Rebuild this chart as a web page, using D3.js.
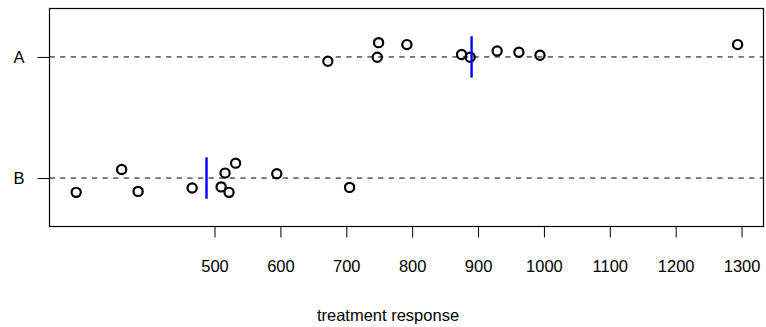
<!DOCTYPE html>
<html>
<head>
<meta charset="utf-8">
<script src="https://cdn.jsdelivr.net/npm/d3@7"></script>
<style>
  html, body { margin: 0; padding: 0; background: #fff; }
  svg { display: block; }
  text { font-family: "Liberation Sans", Arial, sans-serif; fill: #000; }
</style>
</head>
<body>
<svg id="chart" width="766" height="327"></svg>
<script>
// ---- data ----
const groups = ["A", "B"];
const valuesA = [672, 747, 749, 792, 875, 888, 929, 962, 994, 1294];
const jitterA = [0.035, 0.002, -0.118, -0.102, -0.020, 0.002, -0.049, -0.039, -0.014, -0.102];
const valuesB = [290, 359, 384, 466, 510, 516, 532, 522, 594.5, 705];
const jitterB = [0.118, -0.071, 0.110, 0.082, 0.073, -0.041, -0.123, 0.118, -0.035, 0.077];
const xTicks = [500, 600, 700, 800, 900, 1000, 1100, 1200, 1300];
const xLabel = "treatment response";

// ---- layout ----
const mLeft = 49.5, mRight = 763.5, mTop = 8.5, mBottom = 226.5;
const fontSize = 16.5;
const svg = d3.select("#chart");

const x = d3.scaleLinear().domain([249.5, 1333.3]).range([mLeft, mRight]);
const y = d3.scaleLinear().domain([0.6, 2.4]).range([mTop, mBottom]);

const series = [
  { g: "A", idx: 1, vals: valuesA, jit: jitterA },
  { g: "B", idx: 2, vals: valuesB, jit: jitterB }
];

// dashed reference lines
svg.append("g").selectAll("line").data(series).join("line")
  .attr("x1", mLeft).attr("x2", mRight)
  .attr("y1", d => y(d.idx)).attr("y2", d => y(d.idx))
  .attr("stroke", "#000").attr("stroke-width", 1)
  .attr("stroke-dasharray", "5.3,5.3");

// points
series.forEach(s => {
  svg.append("g").selectAll("circle").data(s.vals.map((v, i) => ({ v, j: s.jit[i] })))
    .join("circle")
    .attr("cx", d => x(d.v)).attr("cy", d => y(s.idx + d.j))
    .attr("r", 4.6)
    .attr("fill", "none").attr("stroke", "#000").attr("stroke-width", 2.2);
});

// mean lines
series.forEach(s => {
  const m = d3.mean(s.vals);
  svg.append("line")
    .attr("x1", x(m)).attr("x2", x(m))
    .attr("y1", y(s.idx - 0.171)).attr("y2", y(s.idx + 0.171))
    .attr("stroke", "#0000ff").attr("stroke-width", 2.4);
});

// box
svg.append("rect")
  .attr("x", mLeft).attr("y", mTop)
  .attr("width", mRight - mLeft).attr("height", mBottom - mTop)
  .attr("fill", "none").attr("stroke", "#000").attr("stroke-width", 1.2);

// x axis
const xAxis = d3.axisBottom(x).tickValues(xTicks).tickSize(11).tickPadding(23)
  .tickFormat(d3.format("d"));
const gx = svg.append("g").attr("transform", `translate(0,${mBottom})`).call(xAxis);
gx.select(".domain").remove();
gx.selectAll("line").attr("stroke", "#000");
gx.selectAll("text").attr("font-size", fontSize)
  .style("font-family", "'Liberation Sans', Arial, sans-serif");

// y axis
const yAxis = d3.axisLeft(y).tickValues([1, 2]).tickSize(12).tickPadding(13)
  .tickFormat((d, i) => groups[i]);
const gy = svg.append("g").attr("transform", `translate(${mLeft},0)`).call(yAxis);
gy.select(".domain").remove();
gy.selectAll("line").attr("stroke", "#000");
gy.selectAll("text").attr("font-size", fontSize)
  .style("font-family", "'Liberation Sans', Arial, sans-serif");

// x label
svg.append("text")
  .attr("x", 388).attr("y", 321)
  .attr("text-anchor", "middle").attr("font-size", fontSize)
  .text(xLabel);
</script>
</body>
</html>
